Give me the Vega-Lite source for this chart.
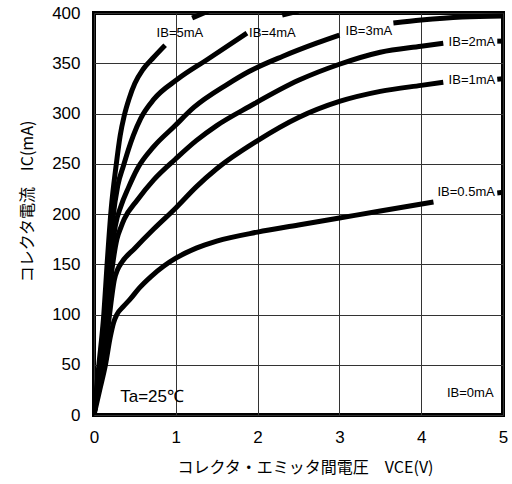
{
  "$schema": "https://vega.github.io/schema/vega-lite/v6.json",
  "width": 409,
  "height": 402,
  "autosize": {"type": "none"},
  "padding": {"left": 94, "top": 13, "right": 9, "bottom": 69},
  "background": "white",
  "config": {
    "view": {"stroke": "black", "strokeWidth": 4},
    "axis": {
      "grid": true, "gridColor": "#333333", "gridWidth": 1, "gridOpacity": 1,
      "domain": false, "ticks": false,
      "labelFont": "Liberation Sans", "labelFontSize": 17, "labelColor": "black",
      "labelPadding": 14, "labelFlush": false, "labelOverlap": false,
      "titleFont": "Noto Sans CJK JP", "titleFontSize": 16, "titleFontWeight": "normal",
      "titleColor": "black"
    }
  },
  "datasets": {
    "curves": [
      {"id":"0.5a","V":0,"I":0},{"id":"0.5a","V":0.07,"I":25},{"id":"0.5a","V":0.14,"I":50},{"id":"0.5a","V":0.2,"I":78},{"id":"0.5a","V":0.24,"I":92},{"id":"0.5a","V":0.28,"I":100},{"id":"0.5a","V":0.36,"I":108},{"id":"0.5a","V":0.45,"I":116},{"id":"0.5a","V":0.55,"I":126},{"id":"0.5a","V":0.7,"I":138},{"id":"0.5a","V":0.85,"I":148},{"id":"0.5a","V":1.0,"I":156},{"id":"0.5a","V":1.25,"I":166},{"id":"0.5a","V":1.5,"I":173},{"id":"0.5a","V":2.0,"I":182},{"id":"0.5a","V":2.5,"I":189},{"id":"0.5a","V":3.0,"I":196},{"id":"0.5a","V":3.5,"I":203},{"id":"0.5a","V":4.15,"I":212},
      {"id":"0.5b","V":4.93,"I":221},{"id":"0.5b","V":5.05,"I":222},
      {"id":"1a","V":0,"I":0},{"id":"1a","V":0.05,"I":25},{"id":"1a","V":0.12,"I":50},{"id":"1a","V":0.19,"I":100},{"id":"1a","V":0.25,"I":135},{"id":"1a","V":0.29,"I":145},{"id":"1a","V":0.34,"I":152},{"id":"1a","V":0.5,"I":166},{"id":"1a","V":0.73,"I":185},{"id":"1a","V":1.0,"I":206},{"id":"1a","V":1.25,"I":227},{"id":"1a","V":1.5,"I":245},{"id":"1a","V":2.0,"I":273},{"id":"1a","V":2.5,"I":296},{"id":"1a","V":3.0,"I":312},{"id":"1a","V":3.5,"I":322},{"id":"1a","V":4.0,"I":328},{"id":"1a","V":4.27,"I":331},
      {"id":"1b","V":4.93,"I":334},{"id":"1b","V":5.05,"I":335},
      {"id":"2a","V":0,"I":0},{"id":"2a","V":0.045,"I":25},{"id":"2a","V":0.1,"I":50},{"id":"2a","V":0.16,"I":100},{"id":"2a","V":0.22,"I":145},{"id":"2a","V":0.28,"I":175},{"id":"2a","V":0.33,"I":187},{"id":"2a","V":0.37,"I":195},{"id":"2a","V":0.53,"I":214},{"id":"2a","V":0.73,"I":234},{"id":"2a","V":1.0,"I":255},{"id":"2a","V":1.25,"I":273},{"id":"2a","V":1.5,"I":288},{"id":"2a","V":1.9,"I":307},{"id":"2a","V":2.5,"I":333},{"id":"2a","V":3.0,"I":349},{"id":"2a","V":3.5,"I":361},{"id":"2a","V":4.0,"I":367},{"id":"2a","V":4.27,"I":370},
      {"id":"2b","V":4.93,"I":372},{"id":"2b","V":5.05,"I":372},
      {"id":"3a","V":0,"I":0},{"id":"3a","V":0.04,"I":25},{"id":"3a","V":0.08,"I":50},{"id":"3a","V":0.14,"I":100},{"id":"3a","V":0.2,"I":150},{"id":"3a","V":0.26,"I":188},{"id":"3a","V":0.33,"I":208},{"id":"3a","V":0.42,"I":226},{"id":"3a","V":0.53,"I":245},{"id":"3a","V":0.73,"I":267},{"id":"3a","V":0.98,"I":287},{"id":"3a","V":1.22,"I":306},{"id":"3a","V":1.63,"I":329},{"id":"3a","V":1.9,"I":342},{"id":"3a","V":2.31,"I":357},{"id":"3a","V":2.72,"I":370},{"id":"3a","V":3.0,"I":378},
      {"id":"3b","V":3.66,"I":390},{"id":"3b","V":4.0,"I":393},{"id":"3b","V":4.5,"I":396},{"id":"3b","V":5.05,"I":397},
      {"id":"4a","V":0,"I":0},{"id":"4a","V":0.035,"I":25},{"id":"4a","V":0.07,"I":50},{"id":"4a","V":0.13,"I":100},{"id":"4a","V":0.18,"I":150},{"id":"4a","V":0.23,"I":195},{"id":"4a","V":0.29,"I":228},{"id":"4a","V":0.36,"I":248},{"id":"4a","V":0.42,"I":264},{"id":"4a","V":0.48,"I":278},{"id":"4a","V":0.57,"I":295},{"id":"4a","V":0.73,"I":314},{"id":"4a","V":1.02,"I":334},{"id":"4a","V":1.39,"I":354},{"id":"4a","V":1.87,"I":380},
      {"id":"4b","V":2.3,"I":398},{"id":"4b","V":2.5,"I":402},
      {"id":"5a","V":0,"I":0},{"id":"5a","V":0.03,"I":25},{"id":"5a","V":0.06,"I":50},{"id":"5a","V":0.12,"I":100},{"id":"5a","V":0.16,"I":150},{"id":"5a","V":0.21,"I":205},{"id":"5a","V":0.27,"I":248},{"id":"5a","V":0.32,"I":278},{"id":"5a","V":0.37,"I":298},{"id":"5a","V":0.43,"I":315},{"id":"5a","V":0.5,"I":330},{"id":"5a","V":0.6,"I":344},{"id":"5a","V":0.73,"I":356},{"id":"5a","V":0.87,"I":368},
      {"id":"5b","V":1.2,"I":395},{"id":"5b","V":1.4,"I":402}
    ],
    "labels": [
      {"t":"IB=5mA","V":1.05,"I":380},
      {"t":"IB=4mA","V":2.18,"I":380},
      {"t":"IB=3mA","V":3.36,"I":382},
      {"t":"IB=2mA","V":4.62,"I":371},
      {"t":"IB=1mA","V":4.62,"I":333},
      {"t":"IB=0.5mA","V":4.55,"I":222},
      {"t":"IB=0mA","V":4.6,"I":22}
    ],
    "note": [
      {"t":"Ta=25℃","V":0.32,"I":18}
    ]
  },
  "layer": [
    {
      "data": {"name": "curves"},
      "mark": {"type": "line", "color": "black", "strokeWidth": 5, "interpolate": "monotone", "clip": true, "strokeCap": "butt"},
      "encoding": {
        "x": {"field": "V", "type": "quantitative",
              "scale": {"domain": [0, 5], "nice": false, "zero": true},
              "axis": {"values": [0,1,2,3,4,5], "format": "d",
                       "title": "コレクタ・エミッタ間電圧　VCE(V)",
                       "titleX": 211, "titleY": 52, "titleBaseline": "middle", "titleAlign": "center"}},
        "y": {"field": "I", "type": "quantitative",
              "scale": {"domain": [0, 400], "nice": false},
              "axis": {"values": [0,50,100,150,200,250,300,350,400], "format": "d",
                       "title": "コレクタ電流　IC(mA)",
                       "titleX": -67, "titleY": 188, "titleAngle": -90, "titleBaseline": "middle", "titleAlign": "center"}},
        "detail": {"field": "id", "type": "nominal"}
      }
    },
    {
      "data": {"name": "labels"},
      "mark": {"type": "text", "font": "Liberation Sans", "fontSize": 13, "color": "black", "align": "center", "baseline": "middle"},
      "encoding": {
        "x": {"field": "V", "type": "quantitative"},
        "y": {"field": "I", "type": "quantitative"},
        "text": {"field": "t"}
      }
    },
    {
      "data": {"name": "note"},
      "mark": {"type": "text", "font": "Liberation Sans", "fontSize": 17, "color": "black", "align": "left", "baseline": "middle"},
      "encoding": {
        "x": {"field": "V", "type": "quantitative"},
        "y": {"field": "I", "type": "quantitative"},
        "text": {"field": "t"}
      }
    }
  ]
}
